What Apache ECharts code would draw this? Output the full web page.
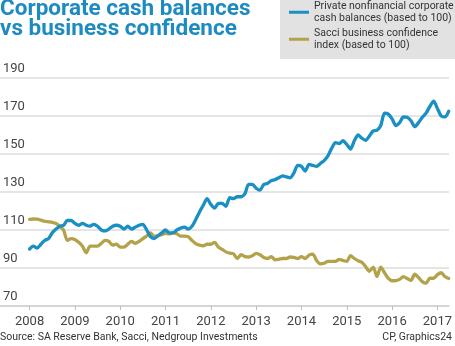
<!DOCTYPE html>
<html>
<head>
<meta charset="utf-8">
<script src="https://cdn.jsdelivr.net/npm/echarts@6/dist/echarts.min.js"></script>
<style>
html,body{margin:0;padding:0;background:#fff;}
#chart{width:455px;height:346px;}
</style>
</head>
<body>
<div id="chart"></div>
<script>
// Monthly data, Jan 2008 .. Apr 2017
const startYear = 2008;
const cashBalances = [
  100, 101.5, 100.5, 102.5, 104.5, 105.5, 108.5, 110.5, 112, 112.5, 115, 115,
  113.5, 112.5, 113.5, 112.5, 112, 113, 112, 110, 109.5, 110.5, 112, 112.5,
  112, 110.5, 112, 110.5, 111.5, 112.5, 113, 110, 106.5, 105.5, 107, 108.5,
  110, 108.5, 108.5, 110, 111, 111.5, 110.5, 112, 115.5, 119.5, 123, 126.5,
  123.5, 121.5, 124, 124, 122.5, 127, 126.5, 127.5, 127.5, 129, 134, 134,
  132, 131, 134, 134.5, 136, 136.5, 137.5, 138.5, 138, 137.5, 140, 144,
  143.5, 141, 144.5, 144, 143.5, 145, 146.5, 149, 153, 156, 155.5, 157,
  155, 152.6, 157, 160, 158.3, 157.2, 159.5, 162.2, 162.5, 165, 171.5, 171,
  168.5, 165, 166.5, 169.5, 169.3, 167.5, 164.4, 166.5, 169.3, 171.5, 175, 177.8,
  174, 170, 169.5, 172.5
];
const confidence = [
  115.6, 115.8, 115.7, 115.2, 114.6, 114.3, 114, 113.4, 112, 110, 104.5, 105.5,
  105, 103.5, 101.5, 98, 101.5, 101.5, 101.5, 103, 104.5, 104, 102, 102.6,
  101, 101, 102.5, 104, 103, 104, 105.5, 106.8, 108.5, 106.7, 107, 107.5,
  108.2, 108, 108.5, 108, 106.8, 106.8, 106.5, 104.5, 102.8, 102, 101.7, 102.5,
  102.5, 103.5, 101, 99.8, 98.5, 97.8, 97.5, 95, 97, 96, 95.8, 96.5,
  97.7, 97, 95.5, 95, 96, 94.3, 94.6, 95, 95, 95.8, 95.6, 95,
  96, 95, 96.8, 97.3, 94, 92.2, 92.5, 93.5, 93.5, 93.5, 94.5, 94,
  93.5, 96.5, 95, 93.8, 93, 90.7, 88.3, 90.5, 85.5, 90.5, 87.5, 84.5,
  83.3, 83.4, 84, 85.5, 84.5, 83.5, 86.7, 85, 82.8, 82, 84.6, 84.6,
  86.5, 87.5, 85.5, 84.5
];
const yearTicks = [2008, 2009, 2010, 2011, 2012, 2013, 2014, 2015, 2016, 2017];
const valueTicks = [70, 90, 110, 130, 150, 170, 190];
const seriesNames = [
  'Private nonfinancial corporate\ncash balances (based to 100)',
  'Sacci business confidence\nindex (based to 100)'
];

const toPairs = arr => arr.map((v, i) => [startYear + i / 12, v]);

const FONT = 'Roboto, "Liberation Sans", sans-serif';
const BLUE = '#1a8fc4';
const OLIVE = '#b3a24a';

const chart = echarts.init(document.getElementById('chart'), null, {renderer: 'canvas'});
chart.setOption({
  animation: false,
  backgroundColor: '#ffffff',
  textStyle: {fontFamily: FONT},
  title: [
    {
      text: 'Corporate cash balances\nvs business confidence',
      left: 0, top: -1, padding: 0,
      textStyle: {fontFamily: FONT, fontSize: 22.5, fontWeight: 'bold', color: '#1d8bc2', lineHeight: 20}
    },
    {
      text: 'Source: SA Reserve Bank, Sacci, Nedgroup Investments',
      left: 0, bottom: 3, padding: 0,
      textStyle: {fontFamily: FONT, fontSize: 10.5, fontWeight: 'normal', color: '#333'}
    },
    {
      text: 'CP, Graphics24',
      right: 3, bottom: 3, padding: 0,
      textStyle: {fontFamily: FONT, fontSize: 10.5, fontWeight: 'normal', color: '#333'}
    }
  ],
  graphic: [
    {type: 'rect', left: 280, top: 0, shape: {width: 175, height: 59}, style: {fill: '#e2e2e2'}, z: 0}
  ],
  legend: {
    data: seriesNames,
    orient: 'vertical',
    left: 289, top: -5,
    padding: 0,
    itemWidth: 20, itemHeight: 3, itemGap: -7.5,
    icon: 'rect',
    selectedMode: false,
    textStyle: {fontFamily: FONT, fontSize: 10.5, lineHeight: 11.5, color: '#333', padding: [11.5, 0, 0, 0]},
    z: 5
  },
  grid: {left: 0, right: 0, top: 78, bottom: 40, containLabel: false},
  xAxis: {
    type: 'value',
    min: 2008 - 30 / 45.92,
    max: 2008 + 425 / 45.92,
    axisLine: {show: true, lineStyle: {color: '#cfcfcf', width: 1.5}},
    axisTick: {show: true, length: 4, lineStyle: {color: '#bdbdbd', width: 1}, customValues: yearTicks},
    axisLabel: {show: true, customValues: yearTicks, margin: 9, fontSize: 13, color: '#444', fontFamily: FONT,
      formatter: v => String(Math.round(v))},
    splitLine: {show: false}
  },
  yAxis: {
    type: 'value',
    min: 70, max: 190,
    axisLine: {show: false},
    axisTick: {show: false, customValues: valueTicks},
    axisLabel: {show: true, inside: true, customValues: valueTicks, margin: 3, fontSize: 13, color: '#444',
      fontFamily: FONT, verticalAlign: 'bottom', padding: [0, 0, 3, 0]},
    splitLine: {show: true, lineStyle: {color: '#dcdcdc', width: 1.5}}
  },
  series: [
    {
      name: seriesNames[1], type: 'line', data: toPairs(confidence),
      showSymbol: false, smooth: 0.25,
      lineStyle: {color: OLIVE, width: 3.3, cap: 'round', join: 'round'},
      itemStyle: {color: OLIVE}, z: 3
    },
    {
      name: seriesNames[0], type: 'line', data: toPairs(cashBalances),
      showSymbol: false, smooth: 0.25,
      lineStyle: {color: BLUE, width: 3.3, cap: 'round', join: 'round'},
      itemStyle: {color: BLUE}, z: 4
    }
  ]
});
</script>
</body>
</html>
